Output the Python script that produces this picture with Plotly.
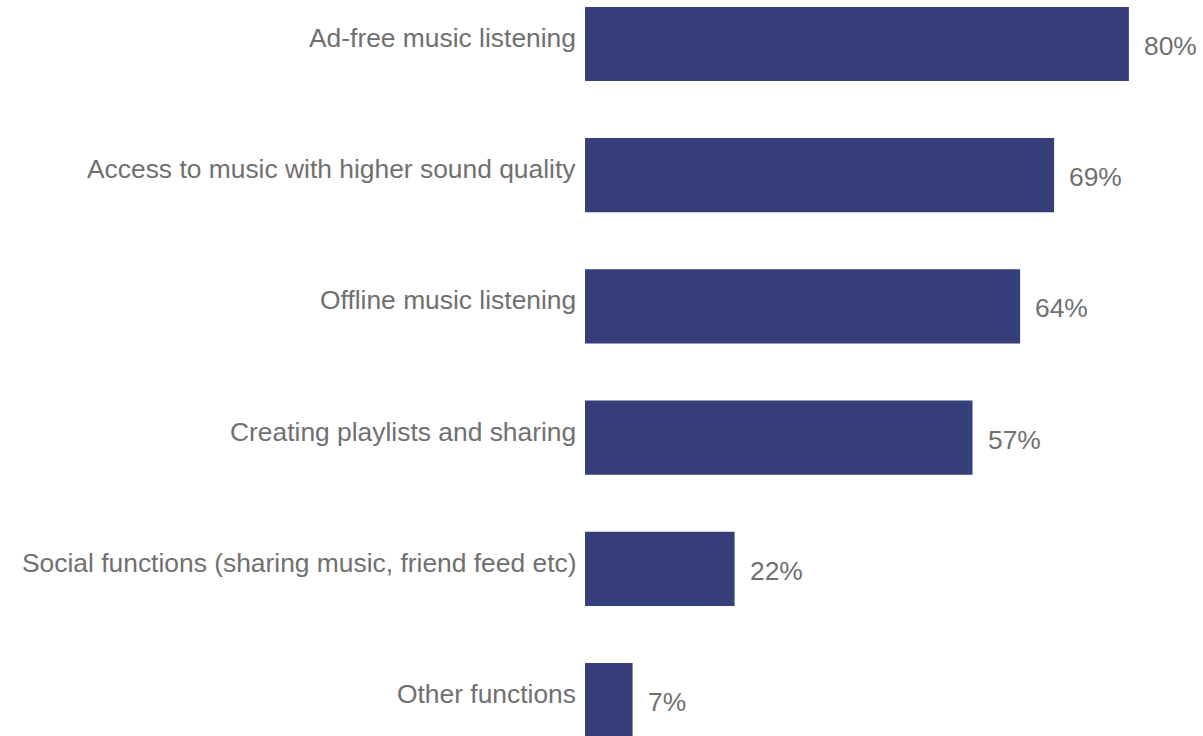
import plotly.graph_objects as go

categories = [
    "Ad-free music listening",
    "Access to music with higher sound quality",
    "Offline music listening",
    "Creating playlists and sharing",
    "Social functions (sharing music, friend feed etc)",
    "Other functions",
]
values = [80, 69, 64, 57, 22, 7]
value_labels = ["80%", "69%", "64%", "57%", "22%", "7%"]

BAR_COLOR = "#363f7a"
TEXT_COLOR = "#707070"
FONT = "Liberation Sans, Arial, sans-serif"
FONT_SIZE = 26.4

positions = list(range(len(categories)))

fig = go.Figure(
    go.Bar(
        x=values,
        y=positions,
        orientation="h",
        width=0.565,
        marker=dict(color=BAR_COLOR, line=dict(width=0)),
        hoverinfo="skip",
    )
)

annotations = []
for pos, cat, val, lab in zip(positions, categories, values, value_labels):
    annotations.append(dict(
        x=0, xref="paper", y=pos, yref="y",
        text=cat, showarrow=False, xanchor="right", yanchor="middle",
        xshift=-7, yshift=6,
        font=dict(family=FONT, size=FONT_SIZE, color=TEXT_COLOR),
    ))
    annotations.append(dict(
        x=val, xref="x", y=pos, yref="y",
        text=lab, showarrow=False, xanchor="left", yanchor="middle",
        xshift=13, yshift=-2,
        font=dict(family=FONT, size=FONT_SIZE, color=TEXT_COLOR),
    ))

fig.update_layout(
    width=1203, height=736,
    margin=dict(l=585, r=0, t=0, b=0, pad=0),
    paper_bgcolor="white", plot_bgcolor="white",
    showlegend=False,
    annotations=annotations,
    xaxis=dict(range=[0, 90.9], visible=False, fixedrange=True),
    yaxis=dict(range=[5.274, -0.335], visible=False, fixedrange=True),
)

fig.write_html("out.html")
